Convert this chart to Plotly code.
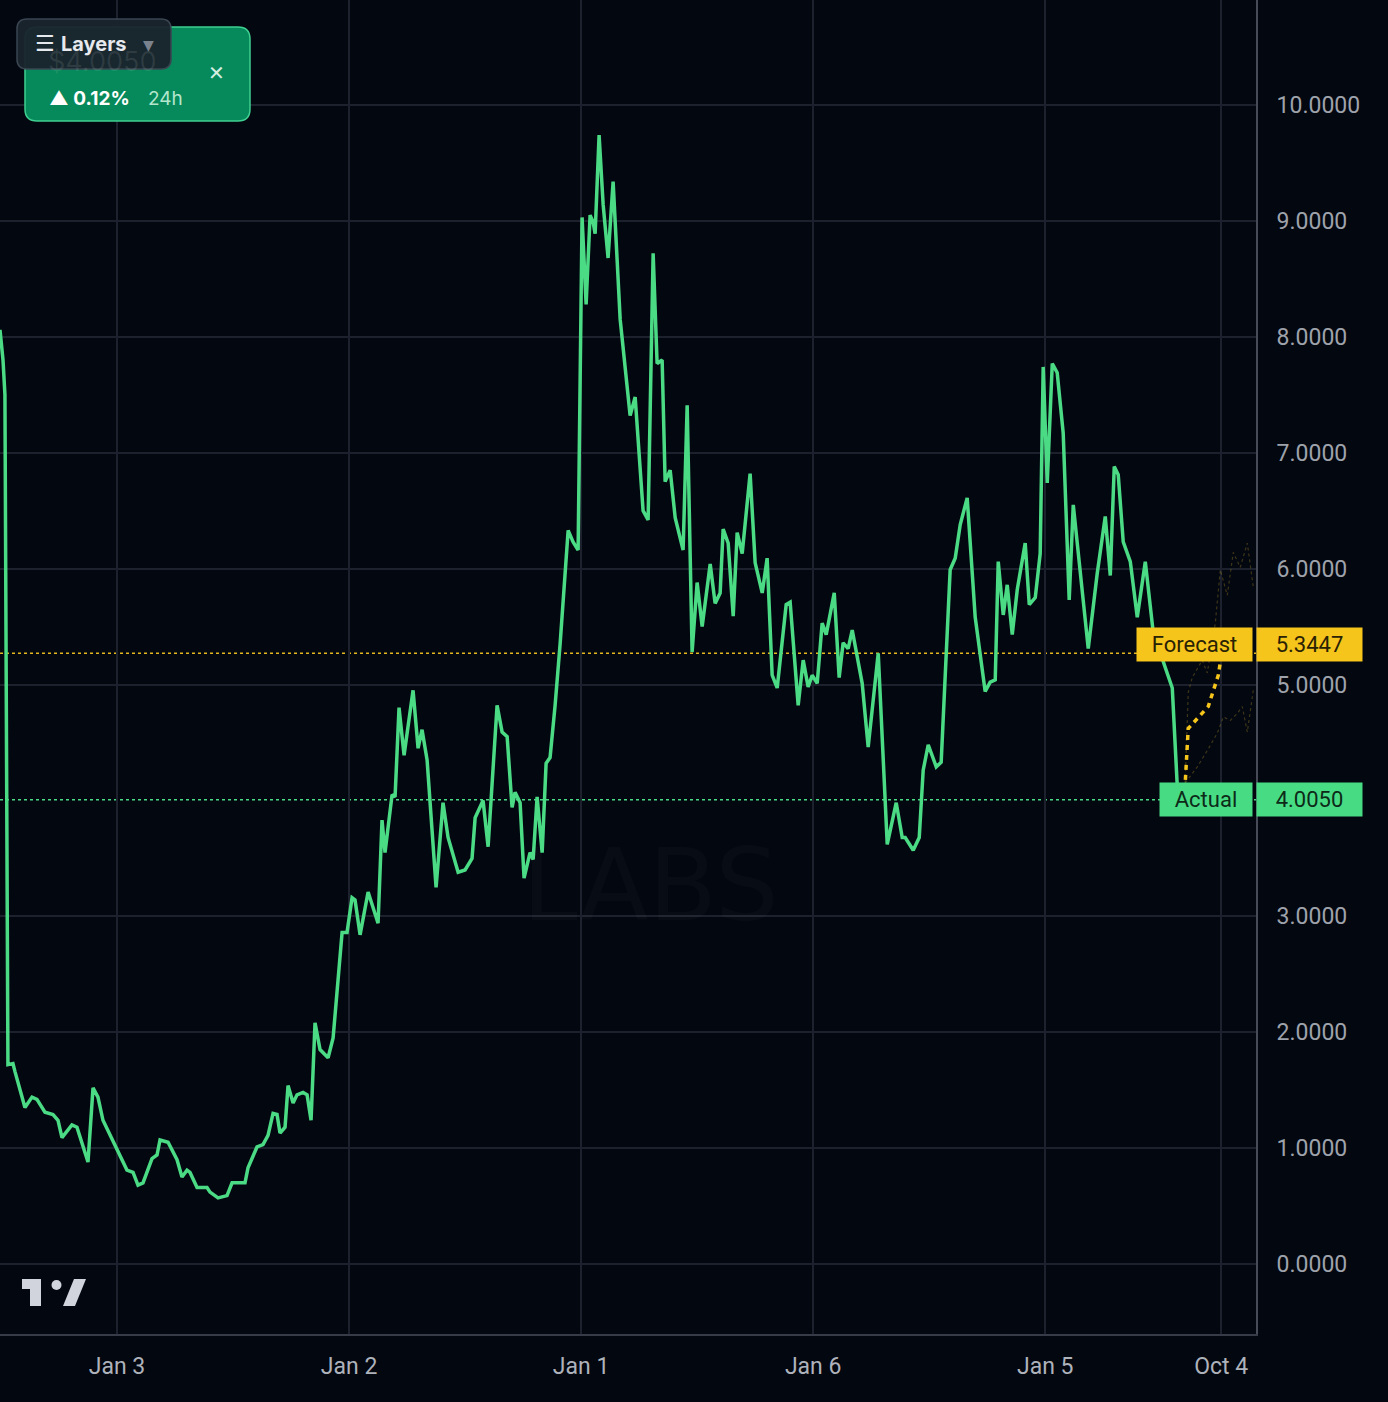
import plotly.graph_objects as go

# ---------------- data (hours from the "Jan 3" gridline, price) ----------------
hours = [-12.10, -11.79, -11.59, -11.28, -10.76, -10.55, -9.52, -8.79, -8.28, -7.45,
         -6.62, -6.10, -5.69, -4.66, -4.14, -3.00, -2.48, -1.97, -1.45, 1.03,
         1.66, 2.17, 2.69, 3.62, 4.14, 4.45, 5.28, 6.21, 6.72, 7.24,
         7.55, 8.28, 9.31, 9.62, 10.45, 11.38, 11.90, 13.24, 13.55, 14.48,
         15.10, 15.62, 16.14, 16.55, 16.86, 17.38, 17.69, 18.21, 18.62, 19.24,
         19.66, 20.07, 20.48, 21.00, 21.83, 22.35, 23.28, 23.79, 24.31, 24.62,
         25.14, 25.97, 27.00, 27.41, 27.72, 28.45, 28.76, 29.17, 29.69, 30.62,
         31.14, 31.55, 32.07, 32.59, 33.00, 33.72, 34.24, 35.28, 36.00, 36.72,
         37.04, 37.86, 38.38, 39.31, 39.83, 40.35, 40.86, 41.17, 41.69, 42.10,
         42.72, 43.04, 43.45, 43.97, 44.38, 44.79, 45.31, 45.83, 46.35, 46.66,
         47.17, 47.69, 48.10, 48.52, 48.93, 49.24, 49.45, 49.86, 50.28, 50.79,
         51.31, 52.04, 53.07, 53.59, 54.41, 54.93, 55.45, 55.86, 56.38, 56.69,
         57.21, 57.73, 58.55, 58.97, 59.48, 60.00, 60.52, 61.35, 61.86, 62.38,
         62.69, 63.21, 63.73, 64.14, 64.66, 65.48, 66.00, 66.73, 67.24, 67.76,
         68.28, 69.21, 69.62, 70.45, 70.97, 71.48, 71.90, 72.42, 72.93, 73.35,
         74.18, 74.69, 75.10, 75.62, 76.04, 77.07, 77.69, 78.73, 79.66, 80.59,
         81.21, 81.52, 82.35, 82.97, 83.38, 83.90, 84.73, 85.24, 86.17, 86.69,
         87.21, 87.93, 88.76, 89.79, 90.31, 90.83, 91.14, 91.66, 92.07, 92.59,
         93.11, 93.93, 94.35, 94.97, 95.48, 95.79, 96.21, 96.73, 97.24, 97.86,
         98.48, 98.90, 100.45, 101.38, 102.21, 102.73, 103.14, 103.55, 104.07, 104.80,
         105.52, 106.35, 107.17, 108.41, 109.14, 109.66, 110.28]
prices = [8.06, 7.80, 7.50, 1.72, 1.73, 1.66, 1.35, 1.44, 1.42, 1.31,
          1.29, 1.24, 1.09, 1.20, 1.18, 0.88, 1.52, 1.44, 1.24, 0.81,
          0.79, 0.68, 0.70, 0.91, 0.94, 1.07, 1.05, 0.90, 0.75, 0.81,
          0.79, 0.66, 0.66, 0.62, 0.57, 0.59, 0.70, 0.70, 0.83, 1.01,
          1.03, 1.11, 1.30, 1.29, 1.13, 1.18, 1.54, 1.39, 1.46, 1.48,
          1.46, 1.24, 2.08, 1.85, 1.78, 1.95, 2.86, 2.86, 3.16, 3.14,
          2.84, 3.21, 2.94, 3.83, 3.55, 4.05, 4.03, 4.80, 4.39, 4.95,
          4.45, 4.61, 4.35, 3.68, 3.25, 3.98, 3.68, 3.38, 3.40, 3.50,
          3.85, 4.00, 3.60, 4.82, 4.59, 4.55, 3.94, 4.07, 3.98, 3.33,
          3.55, 3.49, 4.03, 3.55, 4.32, 4.37, 4.82, 5.35, 5.98, 6.33,
          6.23, 6.16, 9.03, 8.28, 9.05, 8.99, 8.89, 9.74, 9.14, 8.68,
          9.34, 8.15, 7.32, 7.48, 6.50, 6.42, 8.72, 7.77, 7.80, 6.75,
          6.85, 6.44, 6.16, 7.41, 5.28, 5.88, 5.50, 6.04, 5.70, 5.79,
          6.34, 6.22, 5.59, 6.31, 6.13, 6.82, 6.05, 5.79, 6.09, 5.08,
          4.97, 5.69, 5.71, 4.82, 5.21, 4.98, 5.08, 5.01, 5.53, 5.43,
          5.79, 5.06, 5.36, 5.31, 5.47, 5.01, 4.46, 5.27, 3.62, 3.98,
          3.68, 3.68, 3.57, 3.68, 4.26, 4.48, 4.29, 4.33, 5.99, 6.09,
          6.38, 6.61, 5.58, 4.94, 5.02, 5.04, 6.06, 5.60, 5.86, 5.43,
          5.82, 6.22, 5.69, 5.75, 6.13, 7.74, 6.74, 7.77, 7.69, 7.17,
          5.73, 6.55, 5.31, 5.96, 6.45, 5.94, 6.88, 6.81, 6.23, 6.06,
          5.58, 6.06, 5.45, 5.14, 4.97, 4.12, 4.005]

forecast_hours = [110.28, 110.48, 110.79, 111.73, 112.86, 113.90, 114.31]
forecast_vals = [4.005, 4.15, 4.62, 4.71, 4.81, 5.08, 5.30]

upper_hours = [110.48, 110.79, 111.21, 112.24, 112.76, 113.59, 114.11, 114.83, 115.45, 116.17, 116.90, 117.52]
upper_vals = [4.15, 4.93, 5.06, 5.21, 5.10, 5.53, 5.99, 5.77, 6.14, 6.01, 6.22, 5.84]
lower_hours = [110.48, 111.73, 112.76, 113.80, 114.42, 115.14, 115.86, 116.38, 116.90, 117.52]
lower_vals = [4.15, 4.29, 4.43, 4.58, 4.72, 4.69, 4.75, 4.81, 4.59, 4.95]

forecast_price = 5.3447       # value shown on the price label
forecast_line_level = 5.27    # where the dotted forecast line is drawn in the picture
actual_price = 4.0050

tick_hours = [0, 24, 48, 72, 96, 114.2]
tick_labels = ["Jan 3", "Jan 2", "Jan 1", "Jan 6", "Jan 5", "Oct 4"]
# the 4.0000 tick is hidden behind the "Actual" price label in the reference
y_ticks = [0, 1, 2, 3, 5, 6, 7, 8, 9, 10]

# ---------------- styling ----------------
W, H = 1388, 1402
PW, PH = 1256, 1334  # plot area size (pixels)
BG = "#030710"
GRID = "#1c212d"
GREEN = "#4bdb85"
YELLOW = "#f6c51b"


def xp(px):
    return px / PW


def yp(py):
    return 1 - py / PH


def rrect(x0, y0, x1, y1, r):
    pts = [("M", x0 + r, y0), ("L", x1 - r, y0), ("Q", x1, y0, x1, y0 + r),
           ("L", x1, y1 - r), ("Q", x1, y1, x1 - r, y1), ("L", x0 + r, y1),
           ("Q", x0, y1, x0, y1 - r), ("L", x0, y0 + r), ("Q", x0, y0, x0 + r, y0)]
    out = []
    for p in pts:
        cmd = p[0]
        coords = p[1:]
        seg = []
        for i in range(0, len(coords), 2):
            seg.append(f"{xp(coords[i]):.5f},{yp(coords[i+1]):.5f}")
        out.append(cmd + " " + " ".join(seg))
    return " ".join(out) + " Z"


def poly(points):
    s = " ".join(("M " if i == 0 else "L ") + f"{xp(x):.5f},{yp(y):.5f}" for i, (x, y) in enumerate(points))
    return s + " Z"


fig = go.Figure()

# confidence band (faint)
fig.add_trace(go.Scatter(x=upper_hours, y=upper_vals, mode="lines",
                         line=dict(color="rgba(170,140,40,0.35)", width=1.2, dash="dot"),
                         hoverinfo="skip", showlegend=False))
fig.add_trace(go.Scatter(x=lower_hours, y=lower_vals, mode="lines",
                         line=dict(color="rgba(170,140,40,0.35)", width=1.2, dash="dot"),
                         hoverinfo="skip", showlegend=False))

# price line
fig.add_trace(go.Scatter(x=hours, y=prices, mode="lines",
                         line=dict(color=GREEN, width=3.5), showlegend=False))

# forecast path
fig.add_trace(go.Scatter(x=forecast_hours, y=forecast_vals, mode="lines",
                         line=dict(color=YELLOW, width=3.5, dash="5px,5px"), showlegend=False))

# end point
fig.add_trace(go.Scatter(x=[hours[-1]], y=[prices[-1]], mode="markers",
                         marker=dict(color="#a3a8b3", size=12), showlegend=False))

shapes = []
# horizontal reference lines
shapes.append(dict(type="line", xref="paper", yref="y", x0=0, x1=1, y0=forecast_line_level, y1=forecast_line_level,
                   line=dict(color="#e3b81e", width=1.5, dash="dot"), layer="below"))
shapes.append(dict(type="line", xref="paper", yref="y", x0=0, x1=1, y0=actual_price, y1=actual_price,
                   line=dict(color=GREEN, width=1.5, dash="dot"), layer="below"))

# top-left widget
shapes.append(dict(type="path", xref="paper", yref="paper", path=rrect(25, 27, 250, 121, 12),
                   fillcolor="#078a5b", line=dict(color="#3fcf90", width=1.5), layer="above"))
shapes.append(dict(type="path", xref="paper", yref="paper", path=rrect(17, 19, 171, 69, 10),
                   fillcolor="rgba(26,36,46,0.96)", line=dict(color="#3a4552", width=1.5), layer="above"))

# TradingView-like logo
shapes.append(dict(type="rect", xref="paper", yref="paper", x0=xp(22), x1=xp(41), y0=yp(1289), y1=yp(1279),
                   fillcolor="#d1d4dc", line=dict(width=0), layer="above"))
shapes.append(dict(type="rect", xref="paper", yref="paper", x0=xp(30), x1=xp(41), y0=yp(1306), y1=yp(1279),
                   fillcolor="#d1d4dc", line=dict(width=0), layer="above"))
shapes.append(dict(type="circle", xref="paper", yref="paper", x0=xp(51.5), x1=xp(61.5), y0=yp(1290), y1=yp(1280),
                   fillcolor="#d1d4dc", line=dict(width=0), layer="above"))
shapes.append(dict(type="path", xref="paper", yref="paper",
                   path=poly([(63, 1306), (75, 1306), (86, 1279), (74, 1279)]),
                   fillcolor="#d1d4dc", line=dict(width=0), layer="above"))

annotations = []
# watermark
annotations.append(dict(text="LABS", xref="paper", yref="paper", x=xp(650), y=yp(885), showarrow=False,
                        font=dict(family="DejaVu Sans", size=100, color="rgba(255,255,255,0.025)")))

# price labels
lab_font = dict(family="Roboto", size=22, color="#2a2205")
annotations.append(dict(text="Forecast", xref="paper", yref="y", x=xp(1253), y=forecast_price,
                        xanchor="right", yanchor="middle", showarrow=False, width=111, height=29,
                        borderpad=2, bgcolor=YELLOW, font=lab_font))
annotations.append(dict(text=f"{forecast_price:.4f}", xref="paper", yref="y", x=xp(1256), y=forecast_price,
                        xanchor="left", yanchor="middle", showarrow=False, width=101, height=29,
                        borderpad=2, bgcolor=YELLOW, font=lab_font))
act_font = dict(family="Roboto", size=22, color="#0d2a18")
annotations.append(dict(text="Actual", xref="paper", yref="y", x=xp(1253), y=actual_price,
                        xanchor="right", yanchor="middle", showarrow=False, width=88, height=29,
                        borderpad=2, bgcolor="#47dc84", font=act_font))
annotations.append(dict(text=f"{actual_price:.4f}", xref="paper", yref="y", x=xp(1256), y=actual_price,
                        xanchor="left", yanchor="middle", showarrow=False, width=101, height=29,
                        borderpad=2, bgcolor="#47dc84", font=act_font))

# widget texts
annotations.append(dict(text="$4.0050", xref="paper", yref="paper", x=xp(46), y=yp(61), xanchor="left",
                        yanchor="middle", showarrow=False,
                        font=dict(family="Inter", size=27, color="rgba(255,255,255,0.09)")))
annotations.append(dict(text="<b>▲ 0.12%</b>", xref="paper", yref="paper", x=xp(47), y=yp(99), xanchor="left",
                        yanchor="middle", showarrow=False,
                        font=dict(family="Inter", size=19, color="#ffffff")))
annotations.append(dict(text="24h", xref="paper", yref="paper", x=xp(146), y=yp(99), xanchor="left",
                        yanchor="middle", showarrow=False,
                        font=dict(family="Inter", size=19, color="#b3e6cd")))
annotations.append(dict(text="✕", xref="paper", yref="paper", x=xp(216), y=yp(73), xanchor="center",
                        yanchor="middle", showarrow=False,
                        font=dict(family="DejaVu Sans", size=20, color="#d5eee2")))
annotations.append(dict(text="☰", xref="paper", yref="paper", x=xp(33), y=yp(44), xanchor="left",
                        yanchor="middle", showarrow=False,
                        font=dict(family="DejaVu Sans", size=22, color="#e6e9ee")))
annotations.append(dict(text="<b>Layers</b>", xref="paper", yref="paper", x=xp(59), y=yp(44), xanchor="left",
                        yanchor="middle", showarrow=False,
                        font=dict(family="Inter", size=20, color="#e6e9ee")))
annotations.append(dict(text="▼", xref="paper", yref="paper", x=xp(148), y=yp(45), xanchor="center",
                        yanchor="middle", showarrow=False,
                        font=dict(family="DejaVu Sans", size=14, color="#7a828e")))

y_top = 1264 / 115.9
y_bot = -70 / 115.9

fig.update_layout(
    width=W, height=H,
    margin=dict(l=0, r=W - PW, t=0, b=H - PH),
    paper_bgcolor=BG, plot_bgcolor=BG,
    showlegend=False,
    shapes=shapes, annotations=annotations,
    xaxis=dict(range=[-12.1, 117.8], tickvals=tick_hours, ticktext=tick_labels,
               showgrid=True, gridcolor=GRID, gridwidth=2, zeroline=False,
               showline=True, linecolor="#363b47", linewidth=2, ticks="",
               ticklabelstandoff=10,
               tickfont=dict(family="Roboto", size=23, color="#aeb2bb")),
    yaxis=dict(range=[y_bot, y_top], side="right", tickvals=y_ticks, tickformat=".4f",
               showgrid=True, gridcolor=GRID, gridwidth=2, zeroline=False,
               showline=True, linecolor="#464b57", linewidth=2, ticks="",
               ticklabelstandoff=14,
               tickfont=dict(family="Roboto", size=23, color="#9ea2ab")),
)

fig.write_html("out.html", config={"displayModeBar": False},
               post_script="document.body.style.margin='0';document.body.style.background='#030710';")
